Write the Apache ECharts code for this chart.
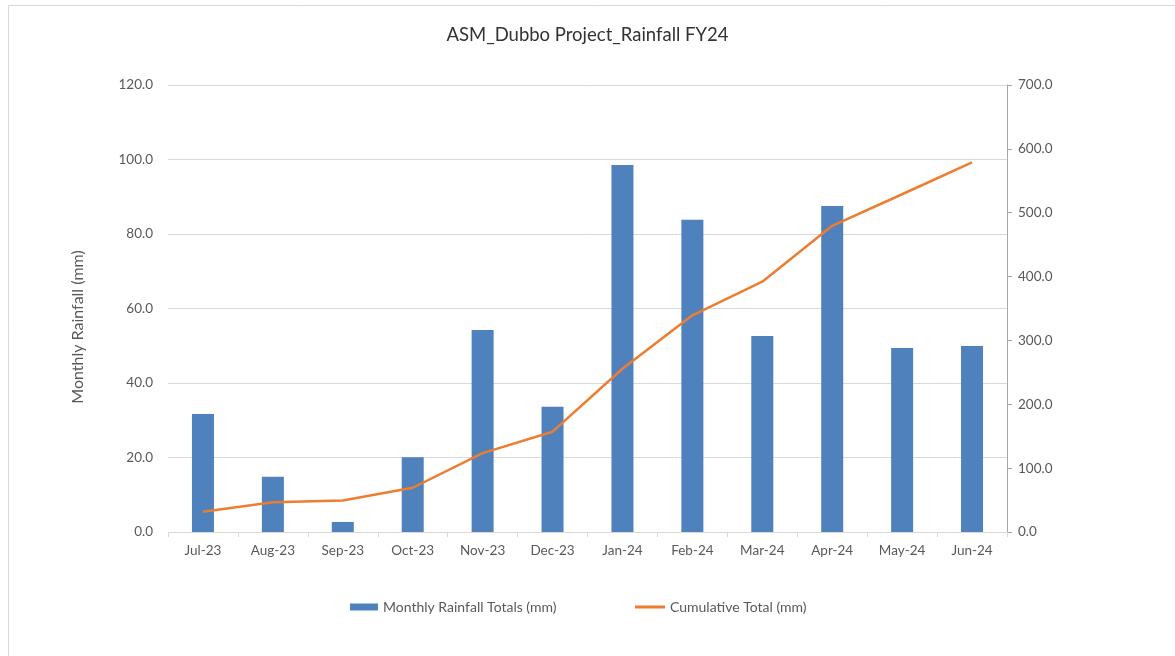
<!DOCTYPE html>
<html><head><meta charset="utf-8">
<script src="https://cdn.jsdelivr.net/npm/echarts@6/dist/echarts.min.js"></script>
<style>html,body{margin:0;padding:0;background:#fff}#c{width:1175px;height:656px}</style>
</head><body><div id="c"></div>
<script>
const categories = ['Jul-23','Aug-23','Sep-23','Oct-23','Nov-23','Dec-23','Jan-24','Feb-24','Mar-24','Apr-24','May-24','Jun-24'];
const monthlyRainfall = [31.7, 14.8, 2.7, 20.1, 54.2, 33.6, 98.5, 83.8, 52.6, 87.5, 49.4, 49.9];
const cumulativeTotal = [31.7, 46.5, 49.2, 69.3, 123.5, 157.1, 255.6, 339.4, 392.0, 479.5, 528.9, 578.8];
const leftTicks = {min: 0, max: 120, interval: 20};
const rightTicks = {min: 0, max: 700, interval: 100};

const FONT = 'Lato, "Open Sans", sans-serif';
const chart = echarts.init(document.getElementById('c'), null, {renderer: 'canvas'});
chart.setOption({
  backgroundColor: '#fff',
  animation: false,
  textStyle: {fontFamily: FONT},
  title: {text: 'ASM_Dubbo Project_Rainfall FY24', left: 'center', top: 21,
    textStyle: {fontFamily: FONT, fontSize: 18.5, fontWeight: 'normal', color: '#333'}},
  graphic: [
    {type: 'rect', shape: {x: 8.5, y: 5.5, width: 1180, height: 700}, style: {fill: 'none', stroke: '#d9d9d9', lineWidth: 1}, silent: true, z: -1},
    {type: 'text', x: 78, y: 327, rotation: Math.PI / 2,
      style: {text: 'Monthly Rainfall (mm)', fill: '#595959', fontSize: 16, fontFamily: FONT, align: 'center', verticalAlign: 'middle'}}
  ],
  grid: {left: 168, right: 168, top: 85, bottom: 124},
  legend: [
    {data: [{name: 'Monthly Rainfall Totals (mm)', icon: 'rect'}], left: 345, top: 595, itemWidth: 28, itemHeight: 7, itemGap: 5,
      textStyle: {fontFamily: FONT, fontSize: 14, color: '#595959'}},
    {data: [{name: 'Cumulative Total (mm)', icon: 'rect'}], left: 630, top: 595, itemWidth: 30, itemHeight: 3, itemGap: 5,
      textStyle: {fontFamily: FONT, fontSize: 14, color: '#595959'}}
  ],
  xAxis: {type: 'category', data: categories, boundaryGap: true,
    axisLine: {lineStyle: {color: '#d9d9d9'}},
    axisTick: {show: true, length: 5, lineStyle: {color: '#d9d9d9'}},
    axisLabel: {color: '#595959', fontSize: 13.5, margin: 12, fontFamily: FONT}},
  yAxis: [
    {type: 'value', min: leftTicks.min, max: leftTicks.max, interval: leftTicks.interval,
      axisLine: {show: false}, axisTick: {show: false},
      axisLabel: {color: '#595959', fontSize: 13.5, margin: 15, fontFamily: FONT, formatter: v => v.toFixed(1)},
      splitLine: {lineStyle: {color: '#d9d9d9'}}},
    {type: 'value', min: rightTicks.min, max: rightTicks.max, interval: rightTicks.interval, position: 'right',
      axisLine: {show: true, lineStyle: {color: '#a6a6a6'}},
      axisTick: {show: true, length: 5, lineStyle: {color: '#a6a6a6'}},
      axisLabel: {color: '#595959', fontSize: 13.5, margin: 11, fontFamily: FONT, formatter: v => v.toFixed(1)},
      splitLine: {show: false}}
  ],
  series: [
    {name: 'Monthly Rainfall Totals (mm)', type: 'bar', data: monthlyRainfall, yAxisIndex: 0,
      barWidth: 22, itemStyle: {color: '#4f81bd'}},
    {name: 'Cumulative Total (mm)', type: 'line', data: cumulativeTotal, yAxisIndex: 1,
      symbol: 'none', lineStyle: {color: '#ed7d31', width: 2.5}, itemStyle: {color: '#ed7d31'}}
  ]
});
</script></body></html>
